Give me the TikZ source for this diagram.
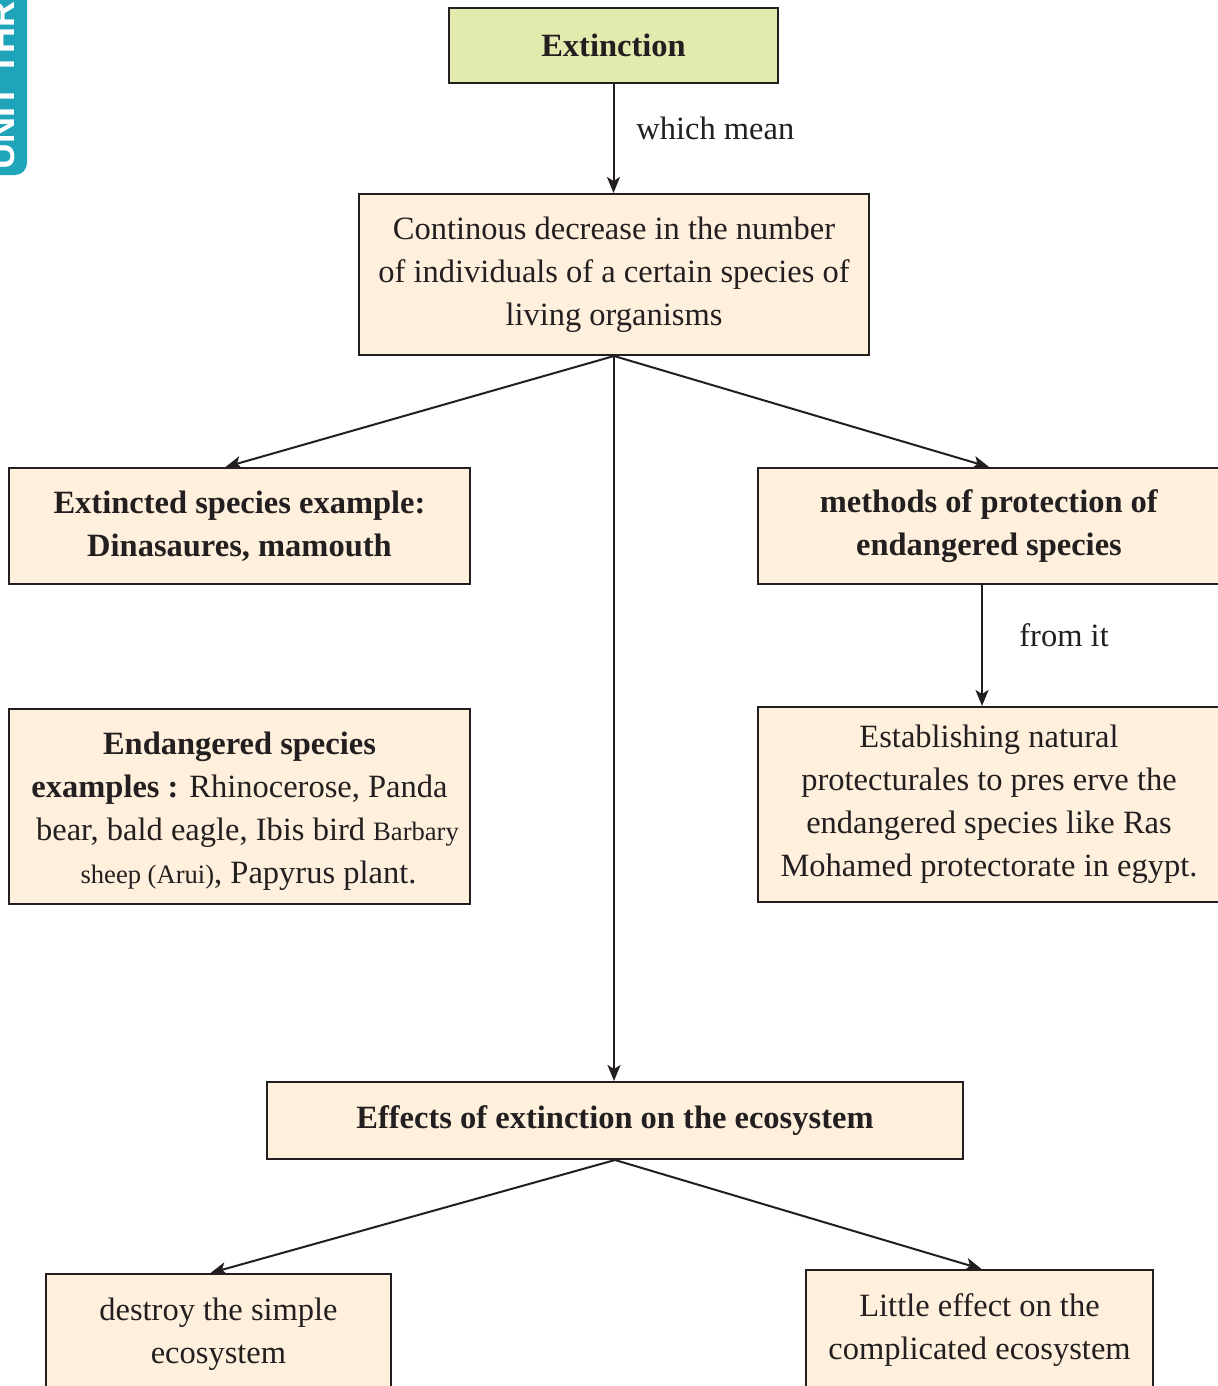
\documentclass[tikz,border=0pt]{standalone}
\usepackage{fontspec}
\setmainfont{Liberation Serif}
\setsansfont{Liberation Sans}
\usetikzlibrary{arrows.meta,positioning}

\definecolor{inkgray}{HTML}{231F20}
\definecolor{boxcream}{HTML}{FEF0DC}
\definecolor{boxgreen}{HTML}{E2EAAE}
\definecolor{unitblue}{HTML}{1FA4BA}

\newcommand{\smalltxt}[1]{{\fontsize{13.3pt}{21.5pt}\selectfont #1}}

\begin{document}
\begin{tikzpicture}[x=0.5pt,y=-0.5pt,
    box/.style={draw=inkgray,line width=1pt,fill=boxcream,align=center,inner sep=0pt,
      text=inkgray,font=\fontsize{16.25pt}{21.5pt}\selectfont},
    link/.style={draw=inkgray,line width=1pt,-{Stealth[length=8pt,width=6.5pt,inset=2pt]}},
    note/.style={text=inkgray,font=\fontsize{16.25pt}{21.5pt}\selectfont,anchor=west,inner sep=0pt}]
  \useasboundingbox (0,0) rectangle (1218,1386);
  \clip (0,0) rectangle (1218,1386);

  % unit tab on the page edge
  \fill[unitblue,rounded corners=6pt] (-40,-20) rectangle (27,175);
  \node[rotate=90,anchor=base west,inner sep=0pt,text=white,
    font=\sffamily\bfseries\fontsize{18pt}{18pt}\selectfont] (unit) at (14,170) {UNIT THREE};

  % boxes
  \node[box,fill=boxgreen,minimum width=164.5pt,minimum height=37.5pt] (ext) at (613.5,45.5) {\textbf{Extinction}};
  \node[box,minimum width=255pt,minimum height=80.5pt] (cont) at (614,274.5)
    {Continous decrease in the number\\of individuals of a certain species of\\living organisms};
  \node[box,minimum width=230.5pt,minimum height=58pt] (exs) at (239.5,526)
    {\textbf{Extincted species example:}\\\textbf{Dinasaures, mamouth}};
  \node[box,minimum width=231pt,minimum height=58pt] (meth) at (989,526)
    {\textbf{methods of protection of}\\\textbf{endangered species}};
  \node[box,minimum width=230.5pt,minimum height=97.5pt] (endg) at (239.5,806.5)
    {\rule{0pt}{16pt}\textbf{Endangered species}\\\textbf{examples :} Rhinocerose, Panda\\
     \hspace*{8pt}bear, bald eagle, Ibis bird \smalltxt{Barbary}\\
     \hspace*{9pt}\smalltxt{sheep (Arui)}, Papyrus plant.};
  \node[box,minimum width=231pt,minimum height=97.5pt] (estab) at (989,804.5)
    {Establishing natural\\protecturales to pres erve the\\endangered species like Ras\\Mohamed protectorate in egypt.};
  \node[box,minimum width=348pt,minimum height=38.5pt] (eff) at (615,1120.5)
    {\textbf{Effects of extinction on the ecosystem}};
  \node[box,anchor=north,inner ysep=12pt,minimum width=172.5pt] (dest) at (218.5,1273)
    {destroy the simple\\ecosystem};
  \node[box,anchor=north,inner ysep=12pt,minimum width=173.5pt] (little) at (979.5,1269)
    {Little effect on the\\complicated ecosystem};

  % arrows
  \draw[link] (ext.south) -- (ext.south |- cont.north);
  \node[note] (mean) at (636,128) {which mean};
  \draw[link] (cont.south) -- ([xshift=-7pt]exs.north);
  \draw[link] (cont.south) -- (meth.north);
  \draw[link] (cont.south) -- (cont.south |- eff.north);
  \draw[link] ([xshift=-3.5pt]meth.south) -- ([xshift=-3.5pt]meth.south |- estab.north);
  \node[note] (fromit) at (1019,635) {from it};
  \draw[link] (eff.south) -- ([xshift=-4pt]dest.north);
  \draw[link] (eff.south) -- ([xshift=1pt]little.north);
\end{tikzpicture}
\end{document}
